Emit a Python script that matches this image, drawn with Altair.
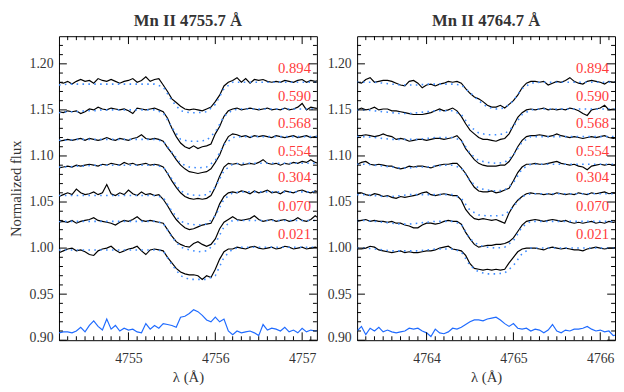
import altair as alt
import pandas as pd

# ---------------- data (flux in units of 0.001) ----------------
LABELS = ["0.894", "0.590", "0.568", "0.554", "0.304", "0.070", "0.021"]
LABEL_Y = [1.1956, 1.1654, 1.1352, 1.1050, 1.0766, 1.0457, 1.0152]

WL0_LEFT = 4754.20
WL0_RIGHT = 4763.20
OBS_STEP = 0.05
MOD_STEP = 0.10
XDOM_LEFT = [4754.20, 4757.17]
XDOM_RIGHT = [4763.20, 4766.17]
XMAJ_LEFT = [4755, 4756, 4757]
XMAJ_RIGHT = [4764, 4765, 4766]
YMAJ = [0.90, 0.95, 1.00, 1.05, 1.10, 1.15, 1.20]

# Left panel: Mn II 4755.7 observed
L_0894 = [1180, 1179, 1181, 1178, 1181, 1183, 1181, 1182, 1179, 1184, 1182, 1181, 1183, 1181, 1179, 1181, 1182, 1184, 1180, 1182, 1186, 1181, 1183, 1184,
          1177, 1170, 1162, 1158, 1154, 1151, 1150, 1151, 1150, 1149, 1151, 1153, 1159, 1166, 1176, 1180,
          1182, 1185, 1180, 1184, 1179, 1183, 1182, 1183, 1181, 1180, 1181, 1180, 1182, 1181, 1180, 1182, 1183, 1180, 1182, 1181, 1182]
L_0590 = [1148, 1147, 1149, 1148, 1149, 1146, 1148, 1151, 1150, 1153, 1151, 1150, 1152, 1151, 1150, 1151, 1149, 1146, 1152, 1151, 1150, 1151, 1152, 1150,
          1148, 1141, 1130, 1121, 1114, 1110, 1108, 1111, 1108, 1110, 1111, 1113, 1124, 1132, 1143, 1149,
          1151, 1152, 1150, 1151, 1152, 1151, 1150, 1151, 1152, 1150, 1151, 1150, 1152, 1150, 1151, 1153, 1157, 1150, 1153, 1152, 1151]
L_0568 = [1116, 1117, 1118, 1117, 1118, 1119, 1117, 1119, 1118, 1117, 1118, 1120, 1118, 1117, 1119, 1118, 1117, 1119, 1120, 1123, 1119, 1118, 1119, 1118,
          1116, 1109, 1103, 1096, 1090, 1086, 1083, 1082, 1081, 1082, 1083, 1086, 1093, 1101, 1113, 1121,
          1124, 1123, 1121, 1122, 1120, 1122, 1121, 1122, 1121, 1120, 1122, 1121, 1120, 1121, 1122, 1120, 1121, 1122, 1120, 1121, 1122]
L_0554 = [1087, 1088, 1089, 1088, 1090, 1089, 1090, 1091, 1090, 1089, 1091, 1090, 1092, 1091, 1090, 1093, 1091, 1092, 1090, 1091, 1092, 1090, 1091, 1090,
          1088, 1081, 1073, 1066, 1060, 1056, 1054, 1053, 1054, 1053, 1054, 1057, 1066, 1078, 1088, 1092,
          1091, 1092, 1090, 1091, 1092, 1091, 1093, 1096, 1092, 1091, 1092, 1090, 1092, 1091, 1093, 1092, 1094, 1093, 1096, 1093, 1092]
L_0304 = [1056, 1058, 1060, 1058, 1064, 1060, 1058, 1059, 1061, 1058, 1060, 1069, 1059, 1057, 1060, 1058, 1063, 1059, 1057, 1061, 1058, 1059, 1057, 1058,
          1053, 1046, 1038, 1031, 1026, 1022, 1020, 1021, 1023, 1025, 1026, 1027, 1036, 1048, 1056, 1060,
          1061, 1060, 1062, 1061, 1059, 1062, 1060, 1061, 1063, 1060, 1061, 1059, 1062, 1061, 1060, 1062, 1063, 1061, 1060, 1062, 1061]
L_0070 = [1028, 1029, 1028, 1030, 1027, 1029, 1030, 1031, 1033, 1030, 1029, 1028, 1027, 1025, 1028, 1030, 1029, 1031, 1034, 1030, 1029, 1030, 1029, 1028,
          1027, 1020, 1013, 1007, 1004, 1002, 1001, 1005, 1007, 1004, 1002, 1004, 1010, 1021, 1028, 1031,
          1034, 1031, 1030, 1031, 1032, 1035, 1031, 1029, 1030, 1031, 1029, 1030, 1031, 1029, 1030, 1033, 1030, 1029, 1031, 1035, 1032]
L_0021 = [995, 997, 999, 1000, 997, 998, 996, 993, 992, 997, 999, 1000, 1002, 998, 995, 997, 999, 1000, 1002, 997, 993, 998, 999, 998,
          997, 990, 984, 978, 974, 972, 971, 971, 970, 966, 970, 968, 977, 988, 996, 999,
          999, 1001, 1000, 999, 1001, 1002, 1000, 999, 1000, 1001, 999, 1000, 1002, 1001, 999, 1000, 1001, 999, 1000, 1001, 1000]

# Left panel models (0.1 A sampling)
ML_0894 = [1177, 1178, 1178, 1178, 1178, 1178, 1178, 1178, 1178, 1178, 1178, 1178, 1175, 1160, 1149, 1147, 1147, 1148, 1156, 1173,
           1180, 1180, 1180, 1180, 1180, 1180, 1180, 1180, 1180, 1180, 1180]
ML_0590 = [1147, 1148, 1148, 1149, 1149, 1150, 1150, 1150, 1150, 1150, 1150, 1150, 1147, 1131, 1118, 1116, 1116, 1117, 1126, 1143,
           1150, 1151, 1151, 1151, 1151, 1151, 1151, 1151, 1151, 1151, 1151]
ML_0568 = [1117, 1117, 1118, 1118, 1118, 1118, 1118, 1118, 1118, 1118, 1118, 1118, 1116, 1104, 1092, 1088, 1087, 1088, 1095, 1112,
           1120, 1121, 1121, 1121, 1121, 1121, 1121, 1121, 1121, 1121, 1121]
ML_0554 = [1088, 1088, 1089, 1089, 1090, 1090, 1090, 1090, 1090, 1090, 1090, 1090, 1088, 1075, 1062, 1058, 1057, 1058, 1066, 1084,
           1091, 1092, 1092, 1092, 1092, 1092, 1092, 1092, 1092, 1092, 1092]
ML_0304 = [1057, 1057, 1057, 1057, 1057, 1057, 1057, 1057, 1057, 1057, 1057, 1057, 1055, 1040, 1029, 1026, 1025, 1026, 1035, 1053,
           1060, 1061, 1061, 1061, 1061, 1061, 1061, 1061, 1061, 1061, 1061]
ML_0070 = [1029, 1029, 1029, 1029, 1029, 1029, 1029, 1029, 1029, 1029, 1029, 1029, 1027, 1012, 1001, 998, 996, 997, 1005, 1023,
           1030, 1030, 1030, 1030, 1030, 1030, 1030, 1030, 1030, 1030, 1030]
ML_0021 = [998, 998, 998, 998, 998, 998, 998, 998, 998, 998, 998, 998, 997, 982, 970, 966, 966, 966, 970, 990,
           999, 1001, 1001, 1001, 1001, 1001, 1001, 1001, 1001, 1001, 1001]

RES_LEFT = [908, 909, 909, 908, 910, 914, 909, 916, 921, 915, 911, 923, 912, 916, 910, 913, 911, 912, 909, 908,
            918, 912, 916, 913, 918, 917, 916, 914, 925, 926, 929, 933, 931, 927, 922, 920, 925, 920, 923, 910,
            906, 910, 908, 909, 910, 908, 905, 917, 911, 913, 912, 910, 914, 909, 911, 908, 913, 909, 911, 910, 911]

# Right panel: Mn II 4764.7 observed
R_0894 = [1180, 1179, 1183, 1185, 1180, 1181, 1182, 1182, 1181, 1179, 1177, 1176, 1181, 1182, 1179, 1174, 1177, 1178, 1176, 1178, 1179, 1181, 1180, 1181,
          1179, 1173, 1168, 1164, 1162, 1159, 1155, 1153, 1153, 1155, 1152, 1156, 1160, 1166, 1174, 1179, 1181,
          1181, 1180, 1181, 1177, 1179, 1181, 1180, 1182, 1185, 1181, 1179, 1178, 1181, 1182, 1181, 1180, 1178, 1181, 1180, 1181]
R_0590 = [1150, 1152, 1150, 1151, 1153, 1150, 1151, 1151, 1149, 1149, 1148, 1147, 1146, 1145, 1145, 1145, 1146, 1147, 1149, 1151, 1149, 1150, 1152, 1149,
          1143, 1135, 1128, 1124, 1120, 1118, 1118, 1117, 1116, 1118, 1119, 1124, 1133, 1142, 1147, 1150, 1151,
          1150, 1151, 1152, 1150, 1151, 1150, 1151, 1150, 1152, 1151, 1149, 1146, 1144, 1150, 1151, 1152, 1155, 1150, 1151, 1150]
R_0568 = [1122, 1122, 1123, 1122, 1121, 1122, 1124, 1122, 1121, 1118, 1119, 1118, 1116, 1117, 1118, 1118, 1117, 1118, 1119, 1119, 1118, 1119, 1120, 1122,
          1117, 1108, 1102, 1096, 1092, 1090, 1089, 1089, 1089, 1090, 1090, 1094, 1101, 1110, 1117, 1121, 1122,
          1122, 1123, 1122, 1121, 1122, 1124, 1122, 1121, 1120, 1121, 1120, 1119, 1120, 1121, 1120, 1121, 1122, 1120, 1119, 1120]
R_0554 = [1091, 1093, 1094, 1091, 1090, 1091, 1090, 1089, 1089, 1087, 1086, 1087, 1089, 1088, 1089, 1089, 1088, 1087, 1089, 1090, 1091, 1091, 1092, 1092,
          1087, 1081, 1073, 1066, 1062, 1061, 1061, 1062, 1060, 1061, 1063, 1065, 1073, 1082, 1088, 1091, 1091,
          1092, 1091, 1091, 1092, 1093, 1094, 1092, 1091, 1090, 1091, 1089, 1088, 1085, 1089, 1090, 1091, 1090, 1091, 1090, 1091]
R_0304 = [1059, 1060, 1058, 1057, 1059, 1058, 1056, 1057, 1055, 1054, 1056, 1055, 1056, 1057, 1058, 1060, 1061, 1058, 1057, 1058, 1059, 1058, 1057, 1057,
          1052, 1042, 1036, 1032, 1031, 1032, 1031, 1030, 1031, 1029, 1027, 1038, 1046, 1052, 1056, 1059, 1060,
          1059, 1059, 1058, 1059, 1058, 1060, 1059, 1058, 1059, 1058, 1060, 1059, 1058, 1060, 1059, 1060, 1061, 1059, 1060, 1059]
R_0070 = [1029, 1030, 1031, 1029, 1030, 1029, 1029, 1028, 1029, 1027, 1027, 1025, 1024, 1022, 1022, 1025, 1027, 1027, 1026, 1027, 1029, 1030, 1029, 1029,
          1026, 1017, 1010, 1004, 1001, 1002, 1003, 1003, 1004, 1004, 1005, 1007, 1011, 1018, 1025, 1029, 1030,
          1031, 1030, 1029, 1030, 1031, 1030, 1029, 1030, 1028, 1027, 1028, 1027, 1028, 1029, 1027, 1028, 1027, 1029, 1028, 1029]
R_0021 = [999, 999, 1000, 1002, 1001, 998, 997, 996, 995, 996, 997, 995, 996, 995, 995, 996, 997, 997, 998, 1000, 1001, 1002, 999, 998,
          997, 992, 983, 978, 977, 976, 977, 976, 977, 976, 977, 984, 990, 996, 999, 1000, 1000,
          1000, 999, 998, 1000, 1001, 1000, 999, 1000, 999, 998, 998, 997, 999, 1000, 1001, 1000, 999, 1000, 1000, 1001]

# Right panel models (0.1 A sampling)
MR_0894 = [1180, 1180, 1180, 1179, 1178, 1177, 1177, 1177, 1178, 1178, 1178, 1178, 1177, 1169, 1160, 1153, 1151, 1152, 1160, 1173,
           1179, 1180, 1180, 1180, 1180, 1180, 1180, 1180, 1180, 1180, 1180]
MR_0590 = [1150, 1150, 1149, 1148, 1147, 1146, 1146, 1147, 1148, 1149, 1149, 1149, 1145, 1132, 1125, 1123, 1123, 1124, 1132, 1145,
           1150, 1151, 1151, 1151, 1151, 1151, 1151, 1151, 1151, 1151, 1151]
MR_0568 = [1121, 1121, 1120, 1119, 1118, 1118, 1118, 1118, 1119, 1120, 1120, 1120, 1117, 1103, 1095, 1093, 1092, 1093, 1101, 1115,
           1121, 1121, 1121, 1121, 1121, 1121, 1121, 1121, 1121, 1121, 1121]
MR_0554 = [1091, 1091, 1090, 1089, 1088, 1087, 1087, 1088, 1088, 1089, 1090, 1090, 1087, 1073, 1065, 1063, 1062, 1063, 1071, 1086,
           1091, 1091, 1091, 1091, 1091, 1091, 1091, 1091, 1091, 1091, 1091]
MR_0304 = [1058, 1058, 1057, 1056, 1056, 1057, 1058, 1058, 1058, 1058, 1058, 1058, 1054, 1041, 1036, 1035, 1035, 1036, 1045, 1056,
           1059, 1059, 1059, 1059, 1059, 1059, 1059, 1059, 1059, 1059, 1059]
MR_0070 = [1030, 1030, 1029, 1028, 1027, 1026, 1026, 1027, 1028, 1029, 1029, 1029, 1026, 1010, 1003, 1001, 1000, 1001, 1008, 1023,
           1029, 1029, 1029, 1029, 1029, 1029, 1029, 1029, 1029, 1029, 1029]
MR_0021 = [1000, 1000, 999, 998, 997, 997, 997, 997, 998, 999, 999, 999, 996, 981, 974, 972, 972, 973, 981, 994,
           1000, 1000, 1000, 1000, 1000, 1000, 1000, 1000, 1000, 1000, 1000]

RES_RIGHT = [910, 915, 906, 913, 910, 914, 909, 911, 909, 908, 909, 910, 913, 912, 913, 910, 908, 904, 912, 908,
             907, 909, 913, 912, 914, 917, 920, 922, 922, 921, 923, 924, 925, 922, 918, 915, 918, 913, 912, 913,
             910, 912, 911, 908, 911, 917, 910, 908, 911, 910, 912, 912, 913, 915, 912, 910, 911, 909, 910, 905, 906]

OBS_LEFT = [L_0894, L_0590, L_0568, L_0554, L_0304, L_0070, L_0021]
MOD_LEFT = [ML_0894, ML_0590, ML_0568, ML_0554, ML_0304, ML_0070, ML_0021]
OBS_RIGHT = [R_0894, R_0590, R_0568, R_0554, R_0304, R_0070, R_0021]
MOD_RIGHT = [MR_0894, MR_0590, MR_0568, MR_0554, MR_0304, MR_0070, MR_0021]

# ---------------- styling ----------------
FONT = "Liberation Serif"
W, H = 263, 310
YDOM = [0.90, 1.23]
TXT = "#333333"
RED = "#ff3b3b"
BLUE_MOD = "#3d8bff"
BLUE_RES = "#1f6bff"
AXIS_STYLE = dict(labelFont=FONT, labelFontSize=14, labelColor=TXT,
                  titleFont=FONT, titleFontSize=15, titleColor=TXT, titleFontWeight="normal")


def grid(start, step, n):
    return [round(start + step * i, 3) for i in range(n)]


def panel(title, wl0, obs, mods, resid, xdom, xmaj, show_ytitle):
    xs = alt.Scale(domain=xdom, nice=False, zero=False)
    ys = alt.Scale(domain=YDOM, nice=False, zero=False)
    wl_obs = grid(wl0, OBS_STEP, len(obs[0]))
    wl_mod = grid(wl0, MOD_STEP, len(mods[0]))

    obs_df = pd.DataFrame([{"s": lab, "wl": w, "f": v / 1000}
                           for lab, arr in zip(LABELS, obs) for w, v in zip(wl_obs, arr)])
    mod_df = pd.DataFrame([{"s": lab, "wl": w, "f": v / 1000}
                           for lab, arr in zip(LABELS, mods) for w, v in zip(wl_mod, arr)])
    res_df = pd.DataFrame({"wl": wl_obs, "f": [v / 1000 for v in resid]})
    lab_df = pd.DataFrame({"lab": LABELS, "f": LABEL_Y})

    xaxis = alt.Axis(values=xmaj, format="d", ticks=False, domain=False, grid=False,
                     labelPadding=12, title="λ (Å)", titlePadding=4, **AXIS_STYLE)
    yargs = dict(values=YMAJ, format=".2f", ticks=False, domain=False, grid=False,
                 labelPadding=6, labelFlush=True, labelFlushOffset=4, **AXIS_STYLE)
    if show_ytitle:
        yaxis = alt.Axis(title="Normalized flux", titlePadding=6, **yargs)
    else:
        yaxis = alt.Axis(title=None, **yargs)

    X = alt.X("wl:Q", scale=xs, axis=xaxis)
    Y = alt.Y("f:Q", scale=ys, axis=yaxis)

    obs_l = alt.Chart(obs_df).mark_line(color="black", strokeWidth=1.2, clip=True).encode(
        x=X, y=Y, detail="s:N")
    mod_l = alt.Chart(mod_df).mark_line(color=BLUE_MOD, strokeWidth=1.6, strokeDash=[1.6, 4.4], clip=True).encode(
        x=X, y=Y, detail="s:N")
    res_l = alt.Chart(res_df).mark_line(color=BLUE_RES, strokeWidth=1.2, clip=True).encode(x=X, y=Y)
    txt = alt.Chart(lab_df).mark_text(align="right", baseline="middle", font=FONT, fontSize=15, color=RED).encode(
        x=alt.value(W - 6), y=Y, text="lab:N")

    # inward ticks on all four sides
    x_minor = [round(xdom[0] + 0.1 * i, 2) for i in range(1, 30)]
    x_minor = [v for v in x_minor if abs(v - round(v)) > 0.01 and v < xdom[1]]
    y_minor = [round(0.90 + 0.01 * i, 2) for i in range(1, 33)]
    y_minor = [v for v in y_minor if abs(v * 20 - round(v * 20)) > 0.01]

    layers = []
    for vals, ln in ((xmaj, 8), (x_minor, 4)):
        df = pd.DataFrame({"wl": vals})
        for y0, y1 in ((H, H - ln), (0, ln)):
            layers.append(alt.Chart(df).mark_rule(color="black", strokeWidth=1).encode(
                x=X, y=alt.value(y0), y2=alt.value(y1)))
    for vals, ln in ((YMAJ, 8), (y_minor, 4)):
        df = pd.DataFrame({"f": vals})
        for x0, x1 in ((0, ln), (W, W - ln)):
            layers.append(alt.Chart(df).mark_rule(color="black", strokeWidth=1).encode(
                y=Y, x=alt.value(x0), x2=alt.value(x1)))

    return alt.layer(obs_l, mod_l, res_l, txt, *layers).properties(
        width=W, height=H,
        title=alt.TitleParams(title, anchor="middle"),
    )


left = panel("Mn II 4755.7 Å", WL0_LEFT, OBS_LEFT, MOD_LEFT, RES_LEFT, XDOM_LEFT, XMAJ_LEFT, True)
right = panel("Mn II 4764.7 Å", WL0_RIGHT, OBS_RIGHT, MOD_RIGHT, RES_RIGHT, XDOM_RIGHT, XMAJ_RIGHT, False)

chart = alt.hconcat(left, right, spacing=9).properties(
    padding={"left": 0, "top": 0, "right": 0, "bottom": 0}
).configure_view(
    stroke="black", strokeWidth=1
).configure_axis(
    **AXIS_STYLE
).configure_title(
    font=FONT, fontSize=17, fontWeight="bold", color=TXT, offset=6
)

chart.save("out.html", embed_options={"renderer": "svg", "actions": False})
